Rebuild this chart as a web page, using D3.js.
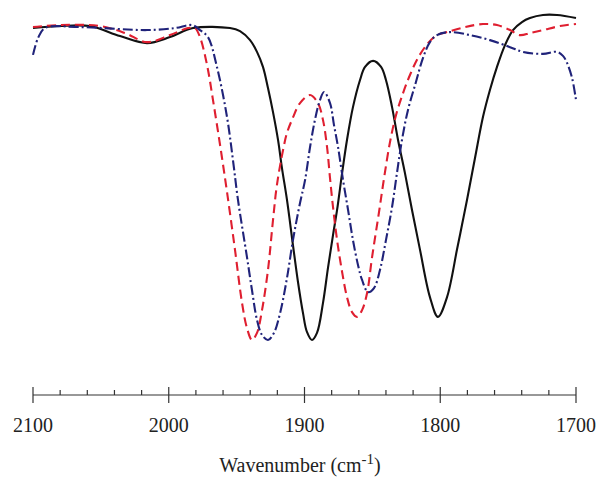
<!DOCTYPE html>
<html>
<head>
<meta charset="utf-8">
<script src="https://cdn.jsdelivr.net/npm/d3@7"></script>
<style>
  body { margin: 0; background: #fff; }
  svg { display: block; }
</style>
</head>
<body>
<div id="chart"></div>
<script>
//Tick values along the wavenumber axis
const majorTicks = [2100, 2000, 1900, 1800, 1700];
const minorTicks = d3.range(2100, 1699, -20);

//Black solid spectrum
const blackWn = [2100, 2080.1, 2058.0, 2035.9, 2016.0, 1999.1, 1982.1, 1954.9, 1947.5, 1940.1, 1935.0, 1930.6, 1926.9, 1923.2, 1919.5, 1916.6, 1912.9, 1908.5, 1904.8, 1901.1, 1898.2, 1894.5, 1890.8, 1886.4, 1882.7, 1879.0, 1876.0, 1872.3, 1868.7, 1864.3, 1859.1, 1855.4, 1849.5, 1843.6, 1840.0, 1835.5, 1831.1, 1826.0, 1820.8, 1814.9, 1807.6, 1801.7, 1795.0, 1787.7, 1784.0, 1780.3, 1774.4, 1768.5, 1763.4, 1758.2, 1752.3, 1746.4, 1739.8, 1733.9, 1724.3, 1714.0, 1700];
const blackT  = [96.1, 96.7, 96.7, 93.7, 91.6, 93.4, 96.1, 96.1, 95.2, 92.5, 89.0, 84.5, 78.2, 71.0, 62.7, 54.3, 44.8, 31.3, 20.3, 11.0, 5.4, 3.0, 5.1, 14.0, 24.5, 34.3, 41.8, 52.8, 62.7, 72.5, 80.6, 84.5, 86.3, 84.5, 80.6, 72.5, 62.7, 52.8, 41.8, 29.9, 15.8, 9.9, 15.8, 29.9, 37.3, 44.8, 57.3, 69.6, 77.6, 84.5, 91.0, 95.5, 97.9, 99.1, 100, 100, 99.1];

//Red dashed spectrum
const redWn = [2100, 2080.1, 2050.6, 2032.2, 2016.0, 1999.1, 1985.8, 1980.7, 1977.0, 1971.8, 1967.4, 1962.2, 1957.1, 1951.2, 1946.0, 1942.4, 1938.7, 1935.0, 1931.3, 1926.9, 1923.2, 1920.3, 1915.8, 1912.9, 1909.2, 1903.3, 1895.9, 1890.1, 1886.4, 1883.4, 1881.2, 1879.0, 1876.0, 1872.3, 1868.7, 1865.0, 1861.3, 1857.6, 1853.9, 1850.3, 1845.1, 1841.4, 1837.0, 1832.6, 1827.4, 1822.3, 1816.4, 1809.0, 1802.4, 1795.0, 1781.8, 1768.5, 1758.2, 1748.6, 1741.3, 1733.9, 1724.3, 1711.8, 1700];
const redT  = [96.4, 97.0, 96.7, 94.6, 91.9, 94.0, 96.1, 96.1, 93.4, 85.1, 74.6, 61.2, 47.2, 29.9, 14.0, 6.6, 3.0, 5.1, 11.9, 23.9, 38.8, 49.3, 59.7, 64.8, 68.7, 73.7, 76.1, 73.7, 68.7, 60.6, 51.3, 42.7, 32.8, 23.3, 15.8, 11.3, 9.9, 11.9, 17.0, 27.5, 41.2, 51.3, 62.1, 70.1, 76.7, 82.1, 87.2, 91.6, 94.0, 94.9, 96.4, 97.3, 97.0, 95.5, 94.0, 94.6, 95.5, 96.7, 97.3];

//Blue dash-dot spectrum
const blueWn = [2100, 2096.3, 2091.2, 2065.4, 2016.0, 1995.4, 1982.9, 1977.0, 1971.1, 1964.5, 1957.1, 1952.7, 1949.0, 1942.4, 1938.7, 1935.0, 1931.3, 1926.9, 1922.5, 1918.0, 1912.9, 1908.5, 1903.3, 1899.6, 1895.9, 1892.3, 1888.6, 1885.6, 1881.2, 1878.3, 1875.3, 1871.6, 1867.9, 1864.3, 1860.6, 1857.6, 1853.2, 1848.8, 1844.4, 1840.0, 1835.5, 1831.9, 1828.2, 1823.8, 1817.9, 1812.7, 1807.6, 1802.4, 1792.8, 1778.1, 1763.4, 1748.6, 1739.1, 1724.3, 1714.0, 1709.6, 1706.6, 1702.9, 1700];
const blueT  = [88.1, 93.1, 96.1, 96.4, 95.5, 96.1, 97.0, 95.5, 93.4, 84.5, 69.6, 56.7, 44.8, 27.8, 17.9, 9.0, 4.5, 3.0, 5.1, 11.0, 21.5, 32.8, 43.9, 50.7, 60.6, 68.7, 74.6, 77.0, 73.7, 67.2, 60.6, 50.7, 41.8, 32.8, 25.4, 20.9, 17.3, 18.5, 23.9, 32.8, 42.7, 52.8, 62.7, 71.6, 80.0, 87.2, 91.9, 94.0, 94.9, 94.0, 92.5, 90.4, 89.0, 88.4, 89.0, 87.8, 85.7, 81.2, 74.6];

const series = [
    {name: "black", wn: blackWn, t: blackT, color: "#111111", dash: null},
    {name: "red", wn: redWn, t: redT, color: "#df1f30", dash: "9,5"},
    {name: "blue", wn: blueWn, t: blueT, color: "#20237a", dash: "10,3,2,3"}
];

//Canvas size
const w = 599;
const h = 480;
const axisY = 395;
const fontFamily = "'Liberation Serif', 'Times New Roman', Times, serif";

const svg = d3.select("#chart")
    .append("svg")
    .attr("width", w)
    .attr("height", h)
    .style("background-color", "white");

//Reversed wavenumber axis
const x = d3.scaleLinear().domain([2100, 1700]).range([33, 576]);
const y = d3.scaleLinear().domain([0, 100]).range([350, 15]);

const line = d3.line()
    .x(d => x(d[0]))
    .y(d => y(d[1]))
    .curve(d3.curveCatmullRom.alpha(0.5));

//Draw spectra
svg.append("g")
    .selectAll("path")
    .data(series)
    .enter()
    .append("path")
    .attr("d", s => line(s.wn.map((v, i) => [v, s.t[i]])))
    .attr("fill", "none")
    .attr("stroke", s => s.color)
    .attr("stroke-width", 2.1)
    .attr("stroke-dasharray", s => s.dash);

//Axis line
const axis = svg.append("g").attr("stroke", "#333").attr("stroke-width", 1.2);
axis.append("line")
    .attr("x1", x(2100)).attr("x2", x(1700))
    .attr("y1", axisY).attr("y2", axisY);

//Minor ticks sit above the line
axis.selectAll(".minor")
    .data(minorTicks.filter(v => !majorTicks.includes(v)))
    .enter()
    .append("line")
    .attr("x1", d => x(d)).attr("x2", d => x(d))
    .attr("y1", axisY - 5).attr("y2", axisY);

//Major ticks cross the line
axis.selectAll(".major")
    .data(majorTicks)
    .enter()
    .append("line")
    .attr("x1", d => x(d)).attr("x2", d => x(d))
    .attr("y1", axisY - 8).attr("y2", axisY + 8);

//Tick labels
svg.append("g")
    .selectAll("text")
    .data(majorTicks)
    .enter()
    .append("text")
    .attr("x", d => x(d))
    .attr("y", 432)
    .attr("text-anchor", "middle")
    .style("font-family", fontFamily)
    .style("font-size", "20px")
    .style("fill", "#222")
    .text(d => d);

//Axis title with superscript
const title = svg.append("text")
    .attr("x", 300)
    .attr("y", 472)
    .attr("text-anchor", "middle")
    .style("font-family", fontFamily)
    .style("font-size", "20px")
    .style("fill", "#222");
title.append("tspan").text("Wavenumber (cm");
title.append("tspan").attr("dy", -8).style("font-size", "15px").text("-1");
title.append("tspan").attr("dy", 8).text(")");
</script>
</body>
</html>
